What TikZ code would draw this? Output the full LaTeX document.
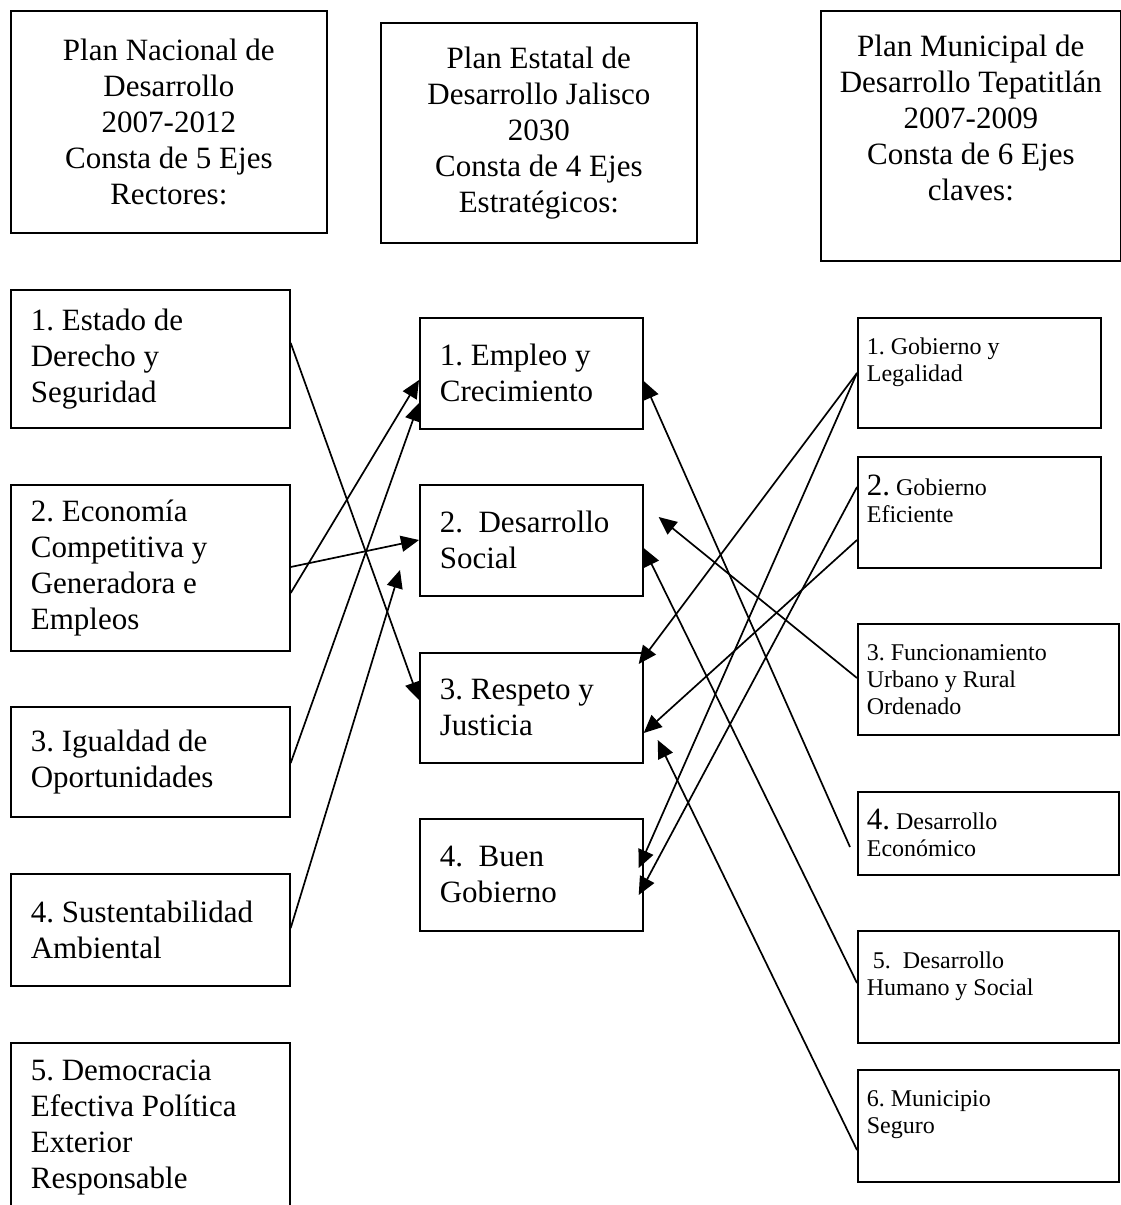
\documentclass[tikz,border=0pt]{standalone}
\usepackage{fontspec}
\setmainfont{Liberation Serif}
\usetikzlibrary{arrows.meta}
\frenchspacing
\newcommand{\ejefont}{\fontsize{31}{36}\selectfont}
\newcommand{\chicafont}{\fontsize{24}{27}\selectfont}
\tikzstyle{plan} = [draw=black, line width=1.7pt, anchor=north west, align=center, font=\ejefont, inner sep=0pt]
\tikzstyle{eje} = [draw=black, line width=1.7pt, anchor=north west, align=flush left, font=\ejefont, inner xsep=20pt, inner ysep=0pt]
\tikzstyle{ejechico} = [eje, font=\chicafont, inner xsep=9pt]
\tikzstyle{liga} = [-{Triangle[length=18pt,width=16pt]}, line width=1.7pt]

\begin{document}
\begin{tikzpicture}[x=1pt,y=-1pt]
    \useasboundingbox (0,0) rectangle (1121,1205);
    % planes
    \node[plan, minimum width=316pt, minimum height=222pt](pn) at (10,10){Plan Nacional de\\Desarrollo\\2007-2012\\Consta de 5 Ejes\\Rectores:};
    \node[plan, minimum width=316pt, minimum height=220pt](pe) at (380,22){Plan Estatal de\\Desarrollo Jalisco\\2030\\Consta de 4 Ejes\\Estrat\'egicos:};
    \node[plan, minimum width=300pt, minimum height=250pt](pm) at (820,10){Plan Municipal de\\Desarrollo Tepatitl\'an\\2007-2009\\Consta de 6 Ejes\\claves:\\\mbox{}};
    % ejes nacionales
    \node[eje, text width=239pt, minimum height=138pt](nac1) at (10,289){1. Estado de\\Derecho y\\Seguridad};
    \node[eje, text width=239pt, minimum height=166pt](nac2) at (10,484){2. Econom\'ia\\Competitiva y\\Generadora e\\Empleos};
    \node[eje, text width=239pt, minimum height=110pt](nac3) at (10,706){3. Igualdad de\\Oportunidades};
    \node[eje, text width=239pt, minimum height=112pt](nac4) at (10,873){4. Sustentabilidad\\Ambiental};
    \node[eje, text width=239pt, minimum height=170pt](nac5) at (10,1042){5. Democracia\\Efectiva Pol\'itica\\Exterior\\Responsable};
    % ejes estatales
    \node[eje, text width=183pt, minimum height=111pt](est1) at (419,317){1. Empleo y\\Crecimiento};
    \node[eje, text width=183pt, minimum height=111pt](est2) at (419,484){2.\ \ Desarrollo\\Social};
    \node[eje, text width=183pt, minimum height=110pt](est3) at (419,652){3. Respeto y\\Justicia};
    \node[eje, text width=183pt, minimum height=112pt](est4) at (419,818){4.\ \ Buen\\Gobierno};
    % ejes municipales
    \node[ejechico, text width=225pt, minimum height=110pt](mun1) at (857,317){1. Gobierno y\\Legalidad\\\mbox{}};
    \node[ejechico, text width=225pt, minimum height=111pt](mun2) at (857,456){{\ejefont 2.} Gobierno\\Eficiente\\\mbox{}};
    \node[ejechico, text width=243pt, minimum height=111pt](mun3) at (857,623){3. Funcionamiento\\Urbano y Rural\\Ordenado};
    \node[ejechico, text width=243pt, minimum height=83pt](mun4) at (857,791){{\ejefont 4.} Desarrollo\\Econ\'omico};
    \node[ejechico, text width=243pt, minimum height=112pt](mun5) at (857,930){\ 5.\ \ Desarrollo\\Humano y Social\\\mbox{}};
    \node[ejechico, text width=243pt, minimum height=112pt](mun6) at (857,1069){6. Municipio\\Seguro\\\mbox{}};
    % nacional -> estatal
    \draw[liga]([yshift=-54pt]nac1.north east)--([yshift=-48pt]est3.north west);
    \draw[liga]([yshift=-109pt]nac2.north east)--([yshift=-63pt]est1.north west);
    \draw[liga]([yshift=-83pt]nac2.north east)--([yshift=-56pt]est2.north west);
    \draw[liga]([yshift=-57pt]nac3.north east)--([yshift=-86pt]est1.north west);
    \draw[liga]([yshift=-55pt]nac4.north east)--([xshift=-19pt,yshift=-86pt]est2.north west);
    % municipal -> estatal
    \draw[liga]([yshift=-56pt]mun1.north west)--([xshift=-5pt,yshift=-12pt]est3.north east);
    \draw[liga]([yshift=-56pt]mun1.north west)--([xshift=-5pt,yshift=-50pt]est4.north east);
    \draw[liga]([yshift=-31pt]mun2.north west)--([xshift=-5pt,yshift=-77pt]est4.north east);
    \draw[liga]([yshift=-84pt]mun2.north west)--([yshift=-81pt]est3.north east);
    \draw[liga]([yshift=-55pt]mun3.north west)--([xshift=15pt,yshift=-33pt]est2.north east);
    \draw[liga]([xshift=-7pt,yshift=-56pt]mun4.north west)--([yshift=-64pt]est1.north east);
    \draw[liga]([yshift=-53pt]mun5.north west)--([yshift=-64pt]est2.north east);
    \draw[liga]([yshift=-81pt]mun6.north west)--([xshift=14pt,yshift=-88pt]est3.north east);
  \end{tikzpicture}
\end{document}
